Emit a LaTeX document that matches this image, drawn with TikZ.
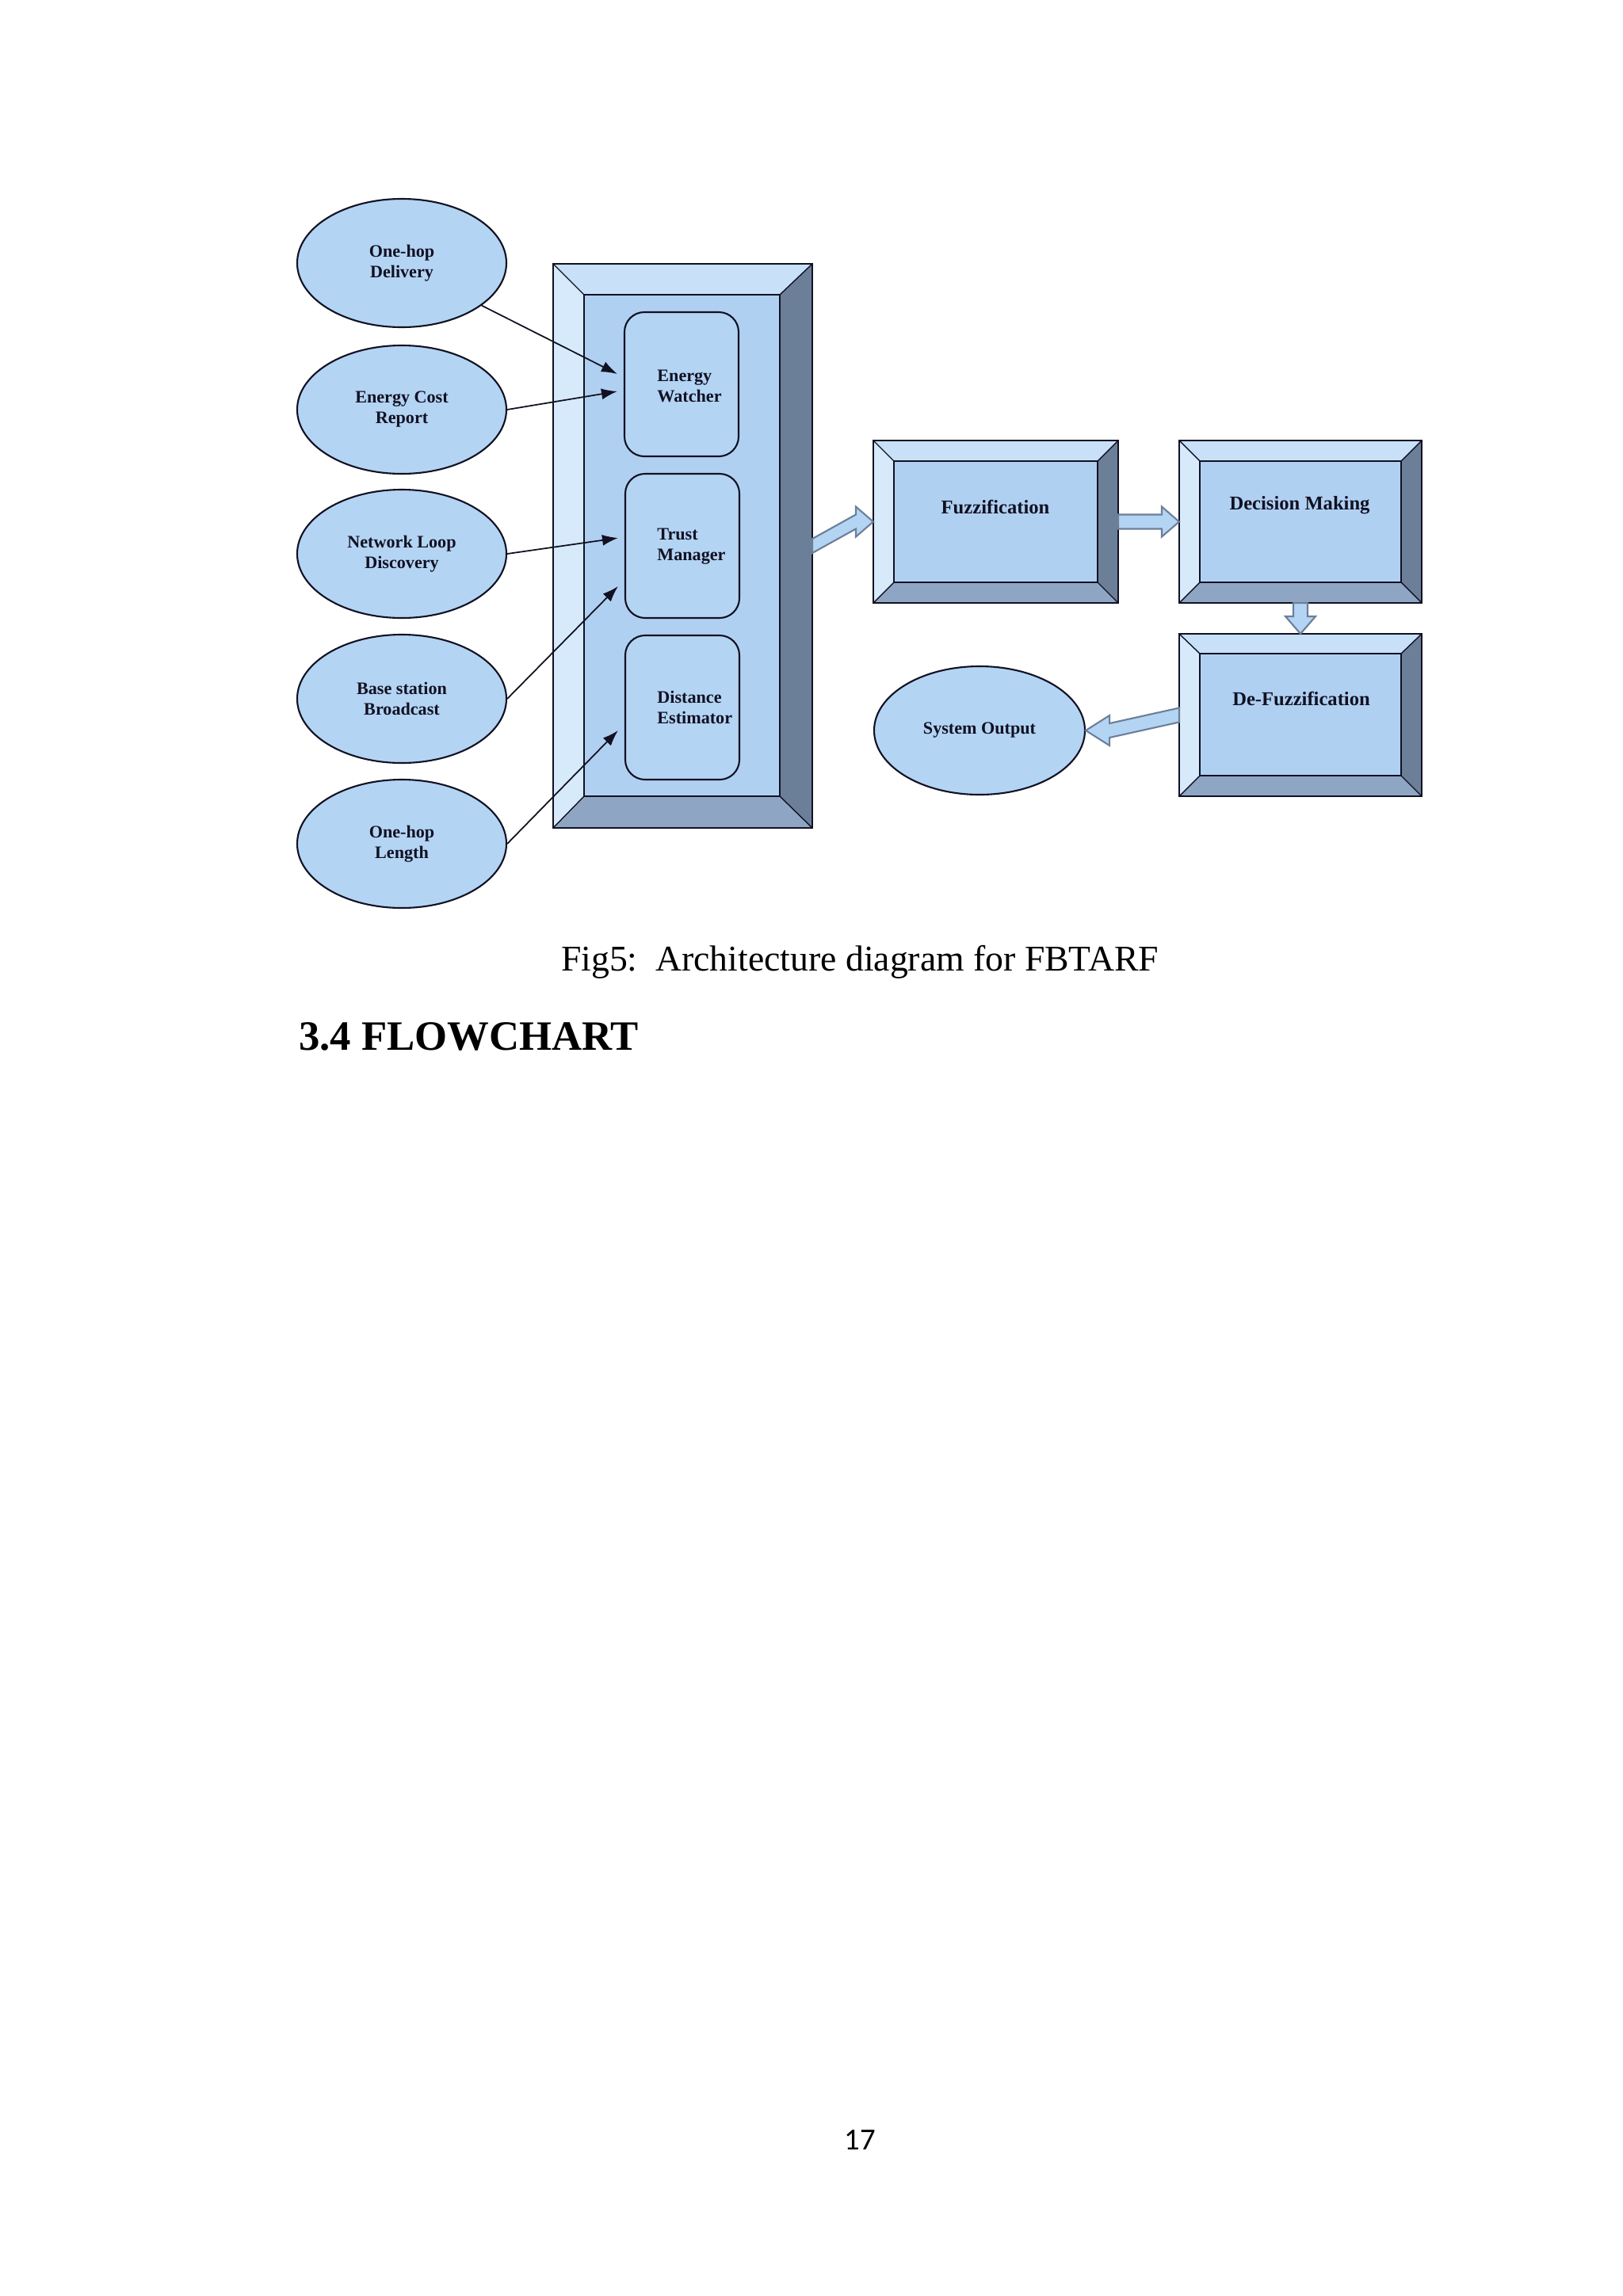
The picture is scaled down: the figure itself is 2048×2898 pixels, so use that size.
\documentclass[tikz,border=0pt]{standalone}
\usepackage{fontspec}
\setmainfont{Liberation Serif}
\newfontfamily\pagenumfont{Carlito}
\usetikzlibrary{shapes.geometric,calc,arrows.meta}
\definecolor{fillblue}{HTML}{B4D4F4}
\definecolor{facblue}{HTML}{B0D0F2}
\definecolor{toplt}{HTML}{C8E0F8}
\definecolor{leftlt}{HTML}{D6EAFB}
\definecolor{rightdk}{HTML}{6C7F99}
\definecolor{botdk}{HTML}{8EA6C4}
\definecolor{ink}{HTML}{111122}
\tikzset{
  lbl/.style={font=\bfseries\fontsize{6.3}{7.4}\selectfont, text=ink},
  oval/.style={ellipse, draw=ink, line width=0.6pt, fill=fillblue, minimum width=26.4mm, minimum height=16.2mm, lbl, align=center},
  rbox/.style={draw=ink, line width=0.6pt, fill=fillblue, rounded corners=2.5mm, minimum width=14.4mm, minimum height=18.2mm},
  thinarr/.style={draw=ink, line width=0.5pt, -{Latex[length=2mm,width=1.4mm]}},
  blockarr/.style={draw=rightdk, line width=0.6pt, fill=fillblue},
}
\newcommand\bevelbox[9]{%
  \node[draw=ink, line width=0.6pt, minimum width=#3mm, minimum height=#4mm, inner sep=0] (#9o) at (#1,#2) {};
  \node[minimum width=#7mm, minimum height=#8mm, inner sep=0] (#9) at (#5,#6) {};
  \fill[toplt] (#9o.north west)--(#9o.north east)--(#9.north east)--(#9.north west)--cycle;
  \fill[leftlt] (#9o.north west)--(#9.north west)--(#9.south west)--(#9o.south west)--cycle;
  \fill[rightdk] (#9o.north east)--(#9o.south east)--(#9.south east)--(#9.north east)--cycle;
  \fill[botdk] (#9o.south west)--(#9o.south east)--(#9.south east)--(#9.south west)--cycle;
  \fill[facblue] (#9.north west) rectangle (#9.south east);
  \draw[ink, line width=0.6pt] (#9o.north west) rectangle (#9o.south east);
  \draw[ink, line width=0.6pt] (#9.north west) rectangle (#9.south east);
  \draw[ink, line width=0.4pt] (#9o.north west)--(#9.north west) (#9o.north east)--(#9.north east) (#9o.south west)--(#9.south west) (#9o.south east)--(#9.south east);
}
\begin{document}
\begin{tikzpicture}[x=0.1mm,y=-0.1mm]
\fill[white] (0,0) rectangle (2048,2898);
\useasboundingbox (0,0) rectangle (2048,2898);

% input ovals
\node[oval] (e1) at (507,332) {One-hop\\Delivery};
\node[oval] (e2) at (507,517) {Energy Cost\\Report};
\node[oval] (e3) at (507,699) {Network Loop\\Discovery};
\node[oval] (e4) at (507,882) {Base station\\Broadcast};
\node[oval] (e5) at (507,1065) {One-hop\\Length};

% big frame
\bevelbox{861.5}{689}{32.5}{71}{860.5}{688.5}{24.5}{63.1}{big}
\node[rbox] (ew) at (860,485) {};
\node[rbox] (tm) at (861,689) {};
\node[rbox] (de) at (861,893) {};
\node[lbl, align=left, anchor=west] at (817,487) {Energy\\Watcher};
\node[lbl, align=left, anchor=west] at (817,690) {Trust\\Manager};
\node[lbl, align=left, anchor=west] at (817,893) {Distance\\Estimator};

% thin arrows
\draw[thinarr] (e1.-28) -- ($(ew.west)+(-8,-13)$);
\draw[thinarr] (e2.east) -- ($(ew.west)+(-8,9)$);
\draw[thinarr] (e3.east) -- ($(tm.west)+(-8,-10)$);
\draw[thinarr] (e4.east) -- ($(tm.west)+(-8,51)$);
\draw[thinarr] (e5.east) -- ($(de.west)+(-8,29)$);

% right-hand blocks
\bevelbox{1256.5}{658.5}{30.7}{20.3}{1256.5}{658.5}{25.5}{15.1}{fz}
\bevelbox{1641}{658.5}{30.4}{20.3}{1641}{658.5}{25.2}{15.1}{dm}
\bevelbox{1641}{902.5}{30.4}{20.3}{1641}{902}{25.2}{15.2}{df}
\node[lbl, font=\bfseries\fontsize{7}{8}\selectfont] at (1256,640) {Fuzzification};
\node[lbl, font=\bfseries\fontsize{7}{8}\selectfont] at (1640,638) {Decision Making};
\node[lbl, font=\bfseries\fontsize{7}{8}\selectfont] at (1642,882) {De-Fuzzification};
\node[oval, minimum width=26.6mm] (so) at (1236,922) {System Output};

% block arrows
\draw[blockarr] ($(bigo.east)+(0,-9)$) -- ($(fzo.west)+(-22,-9)$) -- ($(fzo.west)+(-22,-19)$) -- ($(fzo.west)+(0,0)$) -- ($(fzo.west)+(-22,19)$) -- ($(fzo.west)+(-22,9)$) -- ($(bigo.east)+(0,9)$) -- cycle;
\draw[blockarr] ($(fzo.east)+(0,-9)$) -- ($(dmo.west)+(-22,-9)$) -- ($(dmo.west)+(-22,-19)$) -- ($(dmo.west)+(0,0)$) -- ($(dmo.west)+(-22,19)$) -- ($(dmo.west)+(-22,9)$) -- ($(fzo.east)+(0,9)$) -- cycle;
\draw[blockarr] ($(dmo.south)+(-9,0)$) -- ($(dfo.north)+(-9,-22)$) -- ($(dfo.north)+(-19,-22)$) -- ($(dfo.north)+(0,0)$) -- ($(dfo.north)+(19,-22)$) -- ($(dfo.north)+(9,-22)$) -- ($(dmo.south)+(9,0)$) -- cycle;
\draw[blockarr] ($(dfo.west)+(0,-9)$) -- ($(so.east)+(30,-9)$) -- ($(so.east)+(30,-19)$) -- ($(so.east)+(0,0)$) -- ($(so.east)+(30,19)$) -- ($(so.east)+(30,9)$) -- ($(dfo.west)+(0,9)$) -- cycle;

% caption, heading, page number
\node[font=\fontsize{13}{15}\selectfont] (cap) at (1085,1214) {Fig5:\ \ Architecture diagram for FBTARF};
\node[font=\bfseries\fontsize{15}{18}\selectfont, anchor=west] (hd) at (365,1308) {3.4 FLOWCHART};
\node[font=\pagenumfont\fontsize{11}{13}\selectfont] (pn) at (1085,2701) {17};
\end{tikzpicture}
\end{document}
